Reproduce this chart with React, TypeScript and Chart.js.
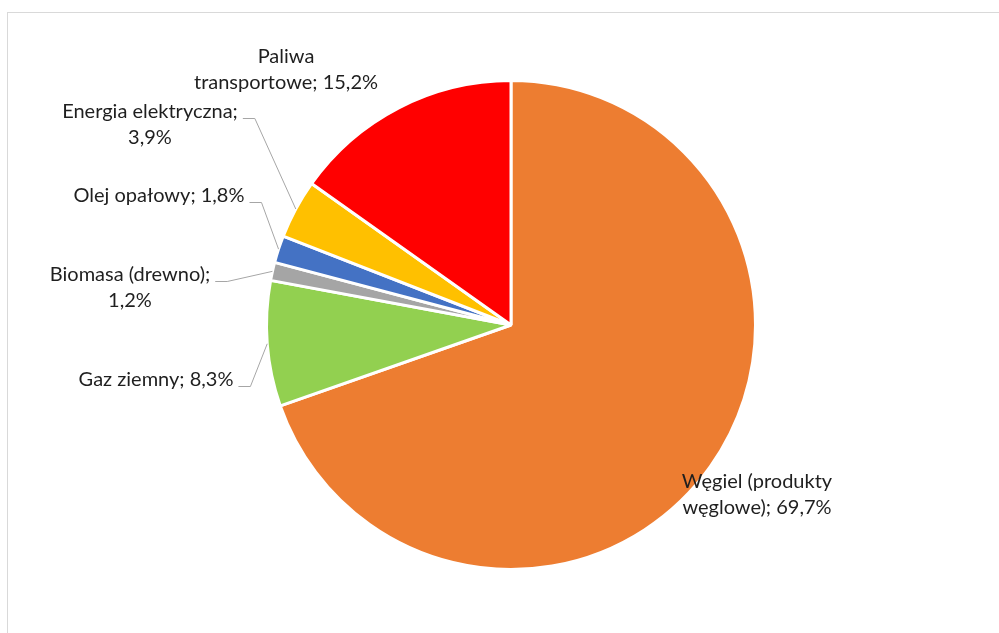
import React, { useEffect, useRef } from "react";
import { Chart, registerables } from "chart.js";

Chart.register(...registerables);

// ---- data ----
const categories = [
  "Węgiel (produkty węglowe)",
  "Gaz ziemny",
  "Biomasa (drewno)",
  "Olej opałowy",
  "Energia elektryczna",
  "Paliwa transportowe",
];
const shares = [69.7, 8.3, 1.2, 1.8, 3.9, 15.2];
const shareLabels = ["69,7%", "8,3%", "1,2%", "1,8%", "3,9%", "15,2%"];
const labelLines = [
  ["Węgiel (produkty", "węglowe); 69,7%"],
  ["Gaz ziemny; 8,3%"],
  ["Biomasa (drewno);", "1,2%"],
  ["Olej opałowy; 1,8%"],
  ["Energia elektryczna;", "3,9%"],
  ["Paliwa", "transportowe; 15,2%"],
];
const colors = ["#ED7D31", "#92D050", "#A5A5A5", "#4472C4", "#FFC000", "#FF0000"];

// ---- label layout (offset of first-line baseline centre from pie centre) ----
const labelLayout = [
  { dx: 246, dy: 163, leader: false },
  { dx: -355, dy: 61, leader: true },
  { dx: -381, dy: -44, leader: true },
  { dx: -352, dy: -123, leader: true },
  { dx: -361, dy: -207, leader: true },
  { dx: -225, dy: -262, leader: false },
];

const FONT_FAMILY = "Lato, 'Liberation Sans', sans-serif";
const FONT_SIZE = 20;
const LINE_HEIGHT = 26;

const labelsPlugin = {
  id: "pieLabels",
  beforeDraw(chart: any) {
    const ctx = chart.ctx;
    ctx.save();
    ctx.strokeStyle = "#D9D9D9";
    ctx.lineWidth = 1;
    ctx.strokeRect(7.5, 12.5, 1400, 1000);
    ctx.restore();
  },
  afterDraw(chart: any) {
    const ctx = chart.ctx;
    const meta = chart.getDatasetMeta(0);
    ctx.save();
    ctx.font = `${FONT_SIZE}px ${FONT_FAMILY}`;
    ctx.textAlign = "center";
    ctx.textBaseline = "alphabetic";
    meta.data.forEach((arc: any, i: number) => {
      const p = arc.getProps(["x", "y", "startAngle", "endAngle", "outerRadius"], true);
      const mid = (p.startAngle + p.endAngle) / 2;
      const ax = p.x + Math.cos(mid) * p.outerRadius;
      const ay = p.y + Math.sin(mid) * p.outerRadius;
      const lay = labelLayout[i];
      const tx = p.x + lay.dx;
      const ty = p.y + lay.dy;
      const lines = labelLines[i];
      ctx.fillStyle = "#1F1F1F";
      lines.forEach((ln, k) => ctx.fillText(ln, tx, ty + k * LINE_HEIGHT));
      if (lay.leader) {
        const w = ctx.measureText(lines[0]).width;
        const x0 = tx + w / 2 + 5;
        const y0 = ty;
        ctx.beginPath();
        ctx.strokeStyle = "#A6A6A6";
        ctx.lineWidth = 1;
        ctx.moveTo(x0, y0 + 0.5);
        ctx.lineTo(x0 + 12, y0 + 0.5);
        ctx.lineTo(ax, ay);
        ctx.stroke();
      }
    });
    ctx.restore();
  },
};

export default function App() {
  const ref = useRef<HTMLCanvasElement | null>(null);
  useEffect(() => {
    if (!ref.current) return;
    const chart = new Chart(ref.current, {
      type: "pie",
      data: {
        labels: categories,
        datasets: [
          {
            data: shares,
            backgroundColor: colors,
            borderColor: "#FFFFFF",
            borderWidth: 3,
          },
        ],
      },
      options: {
        responsive: false,
        animation: false,
        devicePixelRatio: 1,
        layout: { padding: { left: 265, right: 242, top: 79, bottom: 62 } },
        plugins: {
          legend: { display: false },
          tooltip: { enabled: false },
        },
      },
      plugins: [labelsPlugin],
    });
    return () => chart.destroy();
  }, []);
  return (
    <div style={{ position: "absolute", left: 0, top: 0, width: 999, height: 633, overflow: "hidden", background: "#fff" }}>
      <canvas ref={ref} width={999} height={633} style={{ display: "block" }} />
    </div>
  );
}
